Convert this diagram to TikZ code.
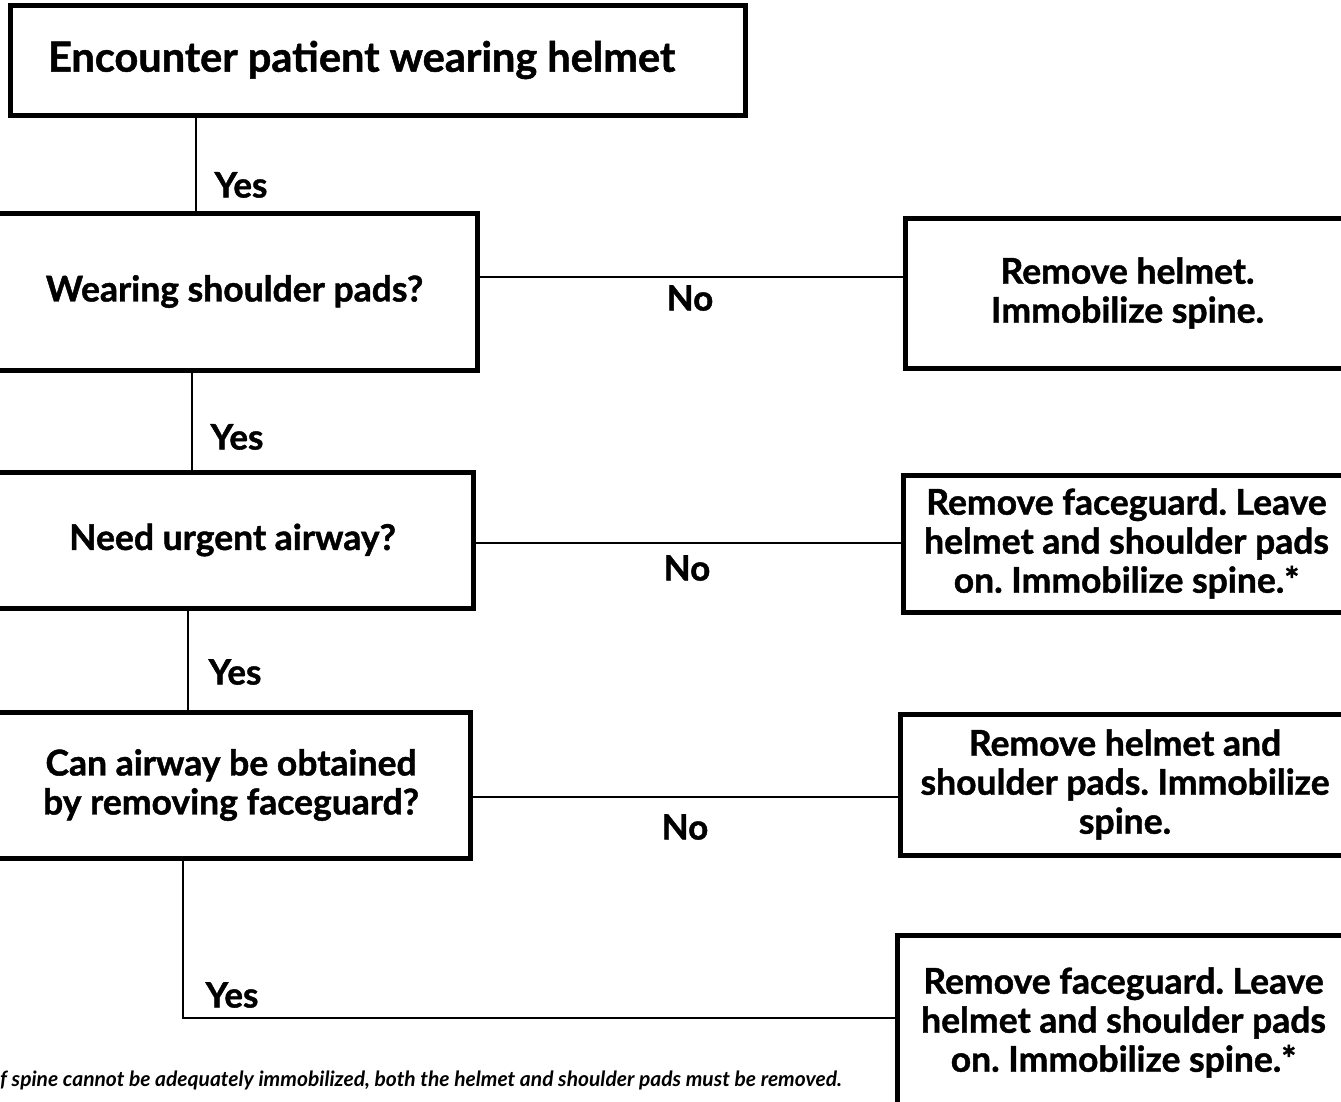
\documentclass[tikz,border=0pt]{standalone}
\usepackage{fontspec}
\setmainfont{Lato}[BoldFeatures={FakeBold=1.2}]
\frenchspacing
\begin{document}
\begin{tikzpicture}[x=1pt,y=-1pt,
    box/.style={draw,line width=5pt,font=\bfseries\fontsize{35.5}{39}\selectfont,align=center,inner sep=0pt},
    tag/.style={font=\bfseries\fontsize{35}{38}\selectfont}]
  \useasboundingbox (0,0) rectangle (1341,1101);
  \draw
    (377.5,60) node[box,minimum width=735,minimum height=110,text width=659,align=flush left,font=\bfseries\fontsize{41.5}{44}\selectfont] (0){Encounter patient wearing helmet}
    (234.5,291.5) node[box,minimum width=485,minimum height=157] (1){Wearing shoulder pads?}
    (232.5,540) node[box,minimum width=481,minimum height=136] (2){Need urgent airway?}
    (231,785) node[box,minimum width=478,minimum height=146] (3){Can airway be obtained\\by removing faceguard?}
    (1127.5,293) node[box,minimum width=445,minimum height=150] (4){Remove helmet.\\Immobilize spine.}
    (1126.5,543.5) node[box,minimum width=447,minimum height=137] (5){Remove faceguard. Leave\\helmet and shoulder pads\\on. Immobilize spine.*}
    (1125,784.5) node[box,minimum width=450,minimum height=141] (6){Remove helmet and\\shoulder pads. Immobilize\\spine.}
    (1123.5,1022.5) node[box,minimum width=453,minimum height=175] (7){Remove faceguard. Leave\\helmet and shoulder pads\\on. Immobilize spine.*};
  \begin{scope}[line width=2pt]
    \draw (0.south -| 196,0) to (1.north -| 196,0);
    \draw (1.south -| 192,0) to (2.north -| 192,0);
    \draw (2.south -| 188,0) to (3.north -| 188,0);
    \draw (3.south -| 183,0) to (183,1018) to (7.west |- 0,1018);
    \draw (1.east |- 0,277) to (4.west |- 0,277);
    \draw (2.east |- 0,543) to (5.west |- 0,543);
    \draw (3.east |- 0,797) to (6.west |- 0,797);
  \end{scope}
  \node[tag] (y0) at (241,185) {Yes};
  \node[tag] (y1) at (237,437) {Yes};
  \node[tag] (y2) at (235,672) {Yes};
  \node[tag] (y3) at (232,995) {Yes};
  \node[tag] (n0) at (690,298) {No};
  \node[tag] (n1) at (687,568) {No};
  \node[tag] (n2) at (685,827) {No};
  \node[anchor=west,inner sep=0pt,font=\bfseries\itshape\fontsize{21}{22}\selectfont] (note) at (0,1080)
    {f spine cannot be adequately immobilized, both the helmet and shoulder pads must be removed.};
\end{tikzpicture}
\end{document}
